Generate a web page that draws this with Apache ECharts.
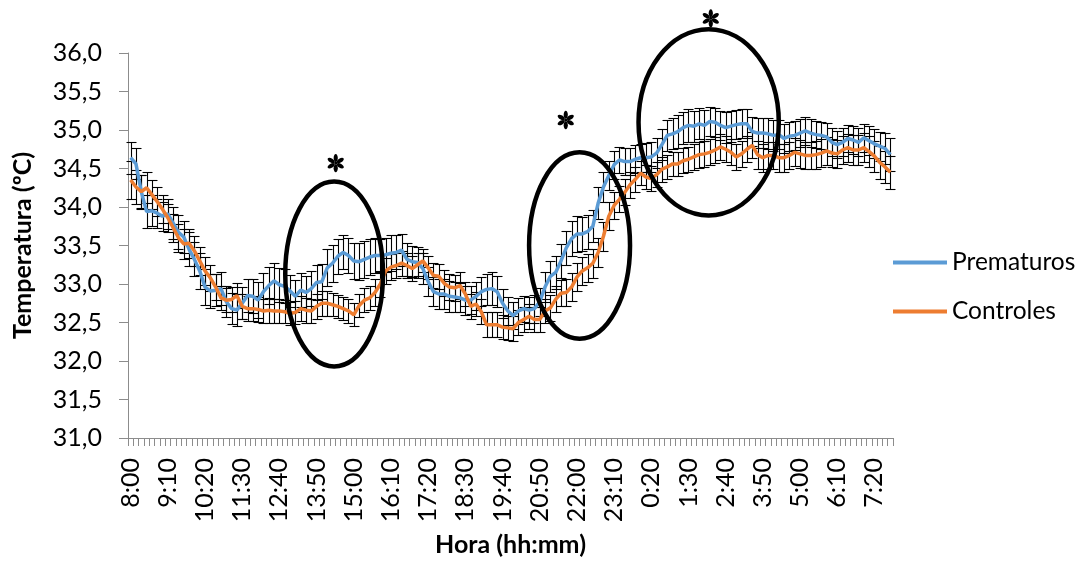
<!DOCTYPE html>
<html>
<head>
<meta charset="utf-8">
<script src="https://cdn.jsdelivr.net/npm/echarts@6/dist/echarts.min.js"></script>
<style>
  html, body { margin: 0; padding: 0; background: #ffffff; }
  #grafico { width: 1083px; height: 562px; }
</style>
</head>
<body>
<div id="grafico"></div>
<script>
// Horário de registro (intervalos de 10 minutos, 8:00 às 7:50)
const horas = [
  '8:00','8:10','8:20','8:30','8:40','8:50','9:00','9:10','9:20','9:30','9:40','9:50',
  '10:00','10:10','10:20','10:30','10:40','10:50','11:00','11:10','11:20','11:30','11:40','11:50',
  '12:00','12:10','12:20','12:30','12:40','12:50','13:00','13:10','13:20','13:30','13:40','13:50',
  '14:00','14:10','14:20','14:30','14:40','14:50','15:00','15:10','15:20','15:30','15:40','15:50',
  '16:00','16:10','16:20','16:30','16:40','16:50','17:00','17:10','17:20','17:30','17:40','17:50',
  '18:00','18:10','18:20','18:30','18:40','18:50','19:00','19:10','19:20','19:30','19:40','19:50',
  '20:00','20:10','20:20','20:30','20:40','20:50','21:00','21:10','21:20','21:30','21:40','21:50',
  '22:00','22:10','22:20','22:30','22:40','22:50','23:00','23:10','23:20','23:30','23:40','23:50',
  '0:00','0:10','0:20','0:30','0:40','0:50','1:00','1:10','1:20','1:30','1:40','1:50',
  '2:00','2:10','2:20','2:30','2:40','2:50','3:00','3:10','3:20','3:30','3:40','3:50',
  '4:00','4:10','4:20','4:30','4:40','4:50','5:00','5:10','5:20','5:30','5:40','5:50',
  '6:00','6:10','6:20','6:30','6:40','6:50','7:00','7:10','7:20','7:30','7:40','7:50'
];

// Temperatura média (ºC) - grupo Prematuros
const prematuros = [
  34.64,34.56,34.20,33.94,33.95,33.92,33.88,33.91,33.79,33.67,33.61,33.45,
  33.32,33.17,32.96,32.91,32.92,32.94,32.77,32.68,32.66,32.75,32.85,32.84,
  32.79,32.90,32.98,33.04,32.99,32.97,32.91,32.84,32.92,32.89,32.94,33.02,
  33.03,33.21,33.27,33.36,33.41,33.37,33.30,33.29,33.32,33.35,33.37,33.37,
  33.38,33.40,33.41,33.44,33.32,33.29,33.28,33.20,33.03,32.90,32.87,32.87,
  32.84,32.83,32.82,32.79,32.79,32.84,32.90,32.93,32.94,32.90,32.75,32.65,
  32.59,32.65,32.68,32.66,32.68,32.77,32.96,33.10,33.15,33.30,33.47,33.59,
  33.65,33.65,33.68,33.75,34.05,34.26,34.41,34.55,34.61,34.59,34.59,34.62,
  34.64,34.64,34.65,34.70,34.81,34.93,34.95,34.98,35.03,35.06,35.05,35.08,
  35.06,35.11,35.10,35.06,35.03,35.05,35.07,35.08,35.08,34.98,34.96,34.96,
  34.95,34.93,34.94,34.89,34.92,34.93,34.96,34.99,34.96,34.94,34.93,34.91,
  34.84,34.81,34.84,34.89,34.87,34.84,34.90,34.86,34.82,34.79,34.76,34.68
];

// Temperatura média (ºC) - grupo Controles
const controles = [
  34.35,34.26,34.20,34.25,34.16,34.07,33.97,33.86,33.73,33.60,33.52,33.53,
  33.43,33.30,33.17,33.08,32.96,32.82,32.79,32.80,32.85,32.71,32.68,32.68,
  32.67,32.65,32.66,32.65,32.65,32.64,32.62,32.63,32.68,32.66,32.65,32.71,
  32.75,32.75,32.73,32.71,32.68,32.65,32.60,32.72,32.79,32.82,32.89,33.00,
  33.17,33.22,33.24,33.27,33.24,33.20,33.25,33.30,33.21,33.11,33.10,33.01,
  32.96,32.95,32.98,32.87,32.71,32.74,32.64,32.47,32.47,32.47,32.44,32.43,
  32.42,32.50,32.54,32.58,32.54,32.54,32.65,32.69,32.80,32.88,32.89,32.96,
  33.09,33.17,33.21,33.27,33.41,33.62,33.88,34.02,34.10,34.19,34.29,34.36,
  34.44,34.39,34.37,34.42,34.49,34.52,34.56,34.56,34.60,34.62,34.65,34.68,
  34.69,34.71,34.74,34.78,34.75,34.71,34.65,34.69,34.75,34.80,34.68,34.64,
  34.67,34.67,34.64,34.64,34.67,34.71,34.69,34.67,34.67,34.68,34.70,34.73,
  34.70,34.69,34.74,34.77,34.74,34.74,34.77,34.72,34.66,34.58,34.52,34.45
];

// Erro padrão (ºC) de cada média
const erroPrematuros = [
  0.21,0.20,0.22,0.21,0.20,0.19,0.19,0.20,0.21,0.22,0.21,0.22,
  0.22,0.23,0.23,0.22,0.21,0.21,0.20,0.20,0.21,0.21,0.22,0.22,
  0.23,0.24,0.24,0.23,0.22,0.22,0.21,0.21,0.22,0.22,0.23,0.23,
  0.23,0.24,0.24,0.23,0.22,0.23,0.23,0.24,0.24,0.23,0.23,0.22,
  0.22,0.23,0.22,0.21,0.21,0.20,0.20,0.20,0.19,0.19,0.19,0.20,
  0.20,0.19,0.19,0.19,0.18,0.18,0.19,0.20,0.21,0.20,0.19,0.18,
  0.18,0.17,0.17,0.17,0.18,0.18,0.19,0.20,0.21,0.22,0.22,0.23,
  0.23,0.22,0.22,0.21,0.21,0.20,0.19,0.18,0.17,0.17,0.18,0.18,
  0.18,0.19,0.19,0.19,0.20,0.20,0.20,0.21,0.21,0.21,0.20,0.20,
  0.20,0.19,0.19,0.19,0.20,0.20,0.19,0.19,0.19,0.19,0.19,0.20,
  0.20,0.20,0.19,0.19,0.19,0.19,0.18,0.18,0.18,0.18,0.18,0.18,
  0.18,0.18,0.18,0.18,0.18,0.18,0.18,0.19,0.19,0.19,0.20,0.21
];
const erroControles = [
  0.25,0.22,0.21,0.20,0.19,0.19,0.18,0.18,0.18,0.18,0.19,0.19,
  0.19,0.18,0.18,0.17,0.17,0.16,0.16,0.16,0.16,0.16,0.16,0.16,
  0.16,0.16,0.16,0.16,0.16,0.15,0.15,0.15,0.16,0.16,0.16,0.16,
  0.16,0.16,0.15,0.15,0.15,0.15,0.15,0.15,0.16,0.16,0.17,0.17,
  0.17,0.17,0.16,0.16,0.16,0.16,0.15,0.15,0.15,0.16,0.16,0.17,
  0.17,0.17,0.17,0.16,0.16,0.16,0.16,0.16,0.16,0.16,0.16,0.16,
  0.16,0.16,0.16,0.16,0.16,0.16,0.16,0.17,0.17,0.17,0.18,0.18,
  0.18,0.18,0.18,0.19,0.19,0.19,0.18,0.18,0.17,0.17,0.17,0.16,
  0.16,0.16,0.16,0.16,0.16,0.16,0.16,0.16,0.16,0.16,0.17,0.17,
  0.17,0.17,0.17,0.17,0.17,0.17,0.17,0.17,0.17,0.17,0.18,0.18,
  0.18,0.18,0.18,0.18,0.18,0.18,0.18,0.18,0.18,0.18,0.18,0.18,
  0.18,0.18,0.18,0.18,0.19,0.19,0.19,0.20,0.20,0.21,0.21,0.21
];

// Períodos com diferença significativa (centro e semi-eixos em unidades dos eixos)
const destaques = [
  { centro: [38.3, 33.13], semi: [9.2, 1.20], asterisco: [38.6, 34.57] },
  { centro: [84.5, 33.50], semi: [9.5, 1.21], asterisco: [81.9, 35.13] },
  { centro: [108.8, 35.10], semi: [13.2, 1.21], asterisco: [109.2, 36.45] }
];

const FONTE = 'Lato, "Open Sans", sans-serif';
const AZUL = '#5B9BD5';
const LARANJA = '#ED7D31';
const EIXO = '#8C8C8C';

function barrasDeErro(valores, erros) {
  return {
    type: 'custom',
    silent: true,
    z: 1,
    data: valores.map((v, i) => [i, v, erros[i]]),
    encode: { x: 0, y: 1 },
    renderItem: function (params, api) {
      const i = api.value(0);
      const v = api.value(1);
      const e = api.value(2);
      const topo = api.coord([i, v + e]);
      const base = api.coord([i, v - e]);
      const x = Math.round(topo[0]) + 0.5;
      const yt = Math.round(topo[1]) + 0.5;
      const yb = Math.round(base[1]) + 0.5;
      const aba = 5;
      const estilo = { stroke: '#000000', lineWidth: 1.1 };
      return {
        type: 'group',
        children: [
          { type: 'line', shape: { x1: x, y1: yt, x2: x, y2: yb }, style: estilo },
          { type: 'line', shape: { x1: x - aba, y1: yt, x2: x + aba, y2: yt }, style: estilo },
          { type: 'line', shape: { x1: x - aba, y1: yb, x2: x + aba, y2: yb }, style: estilo }
        ]
      };
    }
  };
}

// Asterisco de seis pétalas centrado em (x, y)
function asterisco(x, y) {
  const petalas = [];
  for (let k = 0; k < 6; k++) {
    petalas.push({
      type: 'ellipse',
      silent: true,
      rotation: k * Math.PI / 3,
      originX: 0,
      originY: 0,
      shape: { cx: 0, cy: -5.2, rx: 2.1, ry: 4.0 },
      style: { fill: '#000000' }
    });
  }
  petalas.push({ type: 'circle', silent: true, shape: { cx: 0, cy: 0, r: 1.5 }, style: { fill: '#000000' } });
  return { type: 'group', x: x, y: y, z: 10, silent: true, children: petalas };
}

const grafico = echarts.init(document.getElementById('grafico'), null, { renderer: 'canvas' });

grafico.setOption({
  animation: false,
  backgroundColor: '#ffffff',
  textStyle: { fontFamily: FONTE },
  grid: { left: 128, right: 190, top: 53, bottom: 119, containLabel: false },
  legend: {
    orient: 'vertical',
    left: 893,
    top: 248,
    padding: 0,
    itemWidth: 54,
    itemHeight: 4,
    itemGap: 20,
    icon: 'rect',
    data: ['Prematuros', 'Controles'],
    textStyle: { fontFamily: FONTE, fontSize: 24.5, color: '#000000', lineHeight: 29 }
  },
  xAxis: {
    type: 'category',
    data: horas,
    boundaryGap: true,
    name: 'Hora (hh:mm)',
    nameLocation: 'middle',
    nameGap: 94,
    nameTextStyle: { fontFamily: FONTE, fontSize: 25, fontWeight: 'bold', color: '#000000' },
    axisLine: { lineStyle: { color: EIXO, width: 1 } },
    axisTick: { show: true, interval: 0, length: 8, lineStyle: { color: EIXO } },
    axisLabel: {
      interval: 6,
      rotate: 90,
      margin: 20,
      fontFamily: FONTE,
      fontSize: 25,
      color: '#000000'
    },
    splitLine: { show: false }
  },
  yAxis: {
    type: 'value',
    min: 31,
    max: 36,
    interval: 0.5,
    name: 'Temperatura (ºC)',
    nameLocation: 'middle',
    nameGap: 93,
    nameTextStyle: { fontFamily: FONTE, fontSize: 25, fontWeight: 'bold', color: '#000000' },
    axisLine: { show: true, lineStyle: { color: EIXO, width: 1 } },
    axisTick: { show: true, length: 9, lineStyle: { color: EIXO } },
    axisLabel: {
      margin: 26,
      fontFamily: FONTE,
      fontSize: 25,
      color: '#000000',
      formatter: function (v) { return v.toFixed(1).replace('.', ','); }
    },
    splitLine: { show: false }
  },
  series: [
    barrasDeErro(prematuros, erroPrematuros),
    barrasDeErro(controles, erroControles),
    {
      name: 'Prematuros',
      type: 'line',
      data: prematuros,
      z: 3,
      showSymbol: false,
      symbol: 'none',
      itemStyle: { color: AZUL },
      lineStyle: { color: AZUL, width: 3.5 }
    },
    {
      name: 'Controles',
      type: 'line',
      data: controles,
      z: 4,
      showSymbol: false,
      symbol: 'none',
      itemStyle: { color: LARANJA },
      lineStyle: { color: LARANJA, width: 3.5 }
    }
  ]
});

// Elipses e asteriscos posicionados pelas escalas dos eixos
function xPixel(indice) {
  const p0 = grafico.convertToPixel({ xAxisIndex: 0 }, 0);
  const p1 = grafico.convertToPixel({ xAxisIndex: 0 }, 1);
  return p0 + indice * (p1 - p0);
}
function yPixel(valor) {
  return grafico.convertToPixel({ yAxisIndex: 0 }, valor);
}

const elementos = [];
destaques.forEach(function (d) {
  const cx = xPixel(d.centro[0]);
  const cy = yPixel(d.centro[1]);
  const rx = Math.abs(xPixel(d.centro[0] + d.semi[0]) - cx);
  const ry = Math.abs(yPixel(d.centro[1] + d.semi[1]) - cy);
  elementos.push({
    type: 'ellipse',
    z: 10,
    silent: true,
    shape: { cx: cx, cy: cy, rx: rx, ry: ry },
    style: { fill: null, stroke: '#000000', lineWidth: 4.5 }
  });
  elementos.push(asterisco(xPixel(d.asterisco[0]), yPixel(d.asterisco[1])));
});
grafico.setOption({ graphic: { elements: elementos } });
</script>
</body>
</html>
